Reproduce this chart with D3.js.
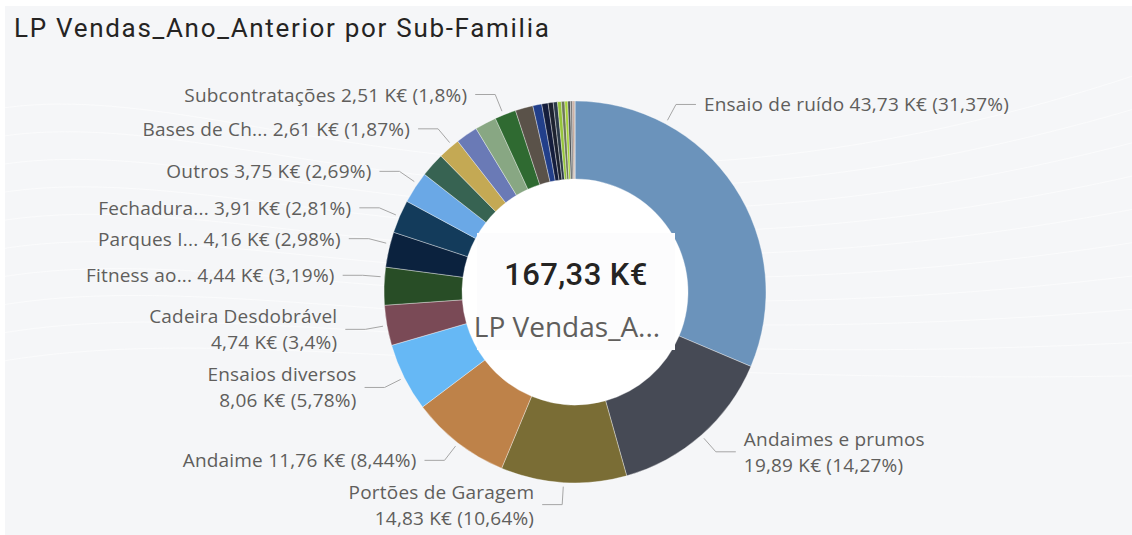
<!DOCTYPE html>
<html>
<head>
<meta charset="utf-8">
<script src="https://cdn.jsdelivr.net/npm/d3@7/dist/d3.min.js"></script>
<style>
  html, body { margin: 0; padding: 0; background: #ffffff; }
  svg { display: block; }
</style>
</head>
<body>
<svg id="chart" width="1132" height="535"></svg>
<script>
// ---------------- DATA ----------------
const title = "LP Vendas_Ano_Anterior por Sub-Familia";
const totalLabel = "167,33 K€";
const measureLabel = "LP Vendas_A...";

const categories = [
  "Ensaio de ruído", "Andaimes e prumos", "Portões de Garagem", "Andaime",
  "Ensaios diversos", "Cadeira Desdobrável", "Fitness ao...", "Parques I...",
  "Fechadura...", "Outros", "Sub-Familia 11", "Bases de Ch...", "Sub-Familia 13",
  "Sub-Familia 14", "Subcontratações", "Sub-Familia 16", "Sub-Familia 17",
  "Sub-Familia 18", "Sub-Familia 19", "Sub-Familia 20", "Sub-Familia 21",
  "Sub-Familia 22", "Sub-Familia 23", "Sub-Familia 24", "Sub-Familia 25",
  "Sub-Familia 26", "Sub-Familia 27", "Sub-Familia 28"
];
// K€
const values = [
  43.73, 19.89, 14.83, 11.76, 8.06, 4.74, 4.44, 4.16, 3.91, 3.75,
  2.86, 2.61, 2.58, 2.54, 2.51, 2.09, 1.05,
  0.75, 0.60, 0.50, 0.45, 0.40, 0.35, 0.30, 0.25, 0.15, 0.10, 0.04
];
const percentLabels = [
  "31,37%", "14,27%", "10,64%", "8,44%", "5,78%", "3,4%", "3,19%", "2,98%",
  "2,81%", "2,69%", "", "1,87%", "", "", "1,8%", "", "",
  "", "", "", "", "", "", "", "", "", "", ""
];
const colors = [
  "#6B93BB", "#464A55", "#7A6D35", "#BE8249", "#66B8F5", "#7A4A56", "#284D26",
  "#0B223E", "#133B5B", "#6AA8E6", "#376352", "#C4A954", "#6A7AB6", "#88A783",
  "#2F6A31", "#5A5249", "#223F8A", "#141D3C", "#1C2230", "#2C3A4A", "#96C43C",
  "#6E7858", "#A6D23A", "#4A4F52", "#7B7B7B", "#9C6E58", "#C07A6A", "#555A40"
];

// ---------------- LAYOUT ----------------
const W = 1132, H = 535;
const cx = 575, cy = 292, rOuter = 191, rInner = 113;
const labelled = [0, 1, 2, 3, 4, 5, 6, 7, 8, 9, 11, 14];
const twoLine = new Set([1, 2, 4, 5]);
const leaderAngleOverride = { 0: 28.3, 6: 274.5, 7: 284.5, 9: 304.5, 11: 320, 14: 338 };

const locale = d3.formatLocale({ decimal: ",", thousands: ".", grouping: [3], currency: ["", " €"] });
const fmt = locale.format(".2f");

const svg = d3.select("#chart");

svg.append("rect").attr("x", 0).attr("y", 0).attr("width", W).attr("height", H).attr("fill", "#ffffff");
svg.append("rect").attr("x", 5).attr("y", 6).attr("width", W - 5).attr("height", H - 6).attr("fill", "#F5F6F8");

const sw = svg.append("g").attr("fill", "none").attr("stroke", "#ffffff").attr("stroke-opacity", 0.55).attr("stroke-width", 1);
d3.range(10).forEach(i => {
  sw.append("path").attr("d", `M ${-50} ${120 + i * 28} C ${200} ${40 + i * 30}, ${500} ${300 + i * 10}, ${1180} ${60 + i * 35}`);
});

svg.append("text")
  .attr("x", 14).attr("y", 37)
  .attr("font-family", "Roboto, 'DejaVu Sans', sans-serif")
  .attr("font-size", 26)
  .attr("letter-spacing", 1.7)
  .attr("fill", "#252423")
  .text(title);

const pie = d3.pie().sort(null).value(d => d.value);
const data = categories.map((c, i) => ({ name: c, value: values[i], pct: percentLabels[i], color: colors[i], i }));
const arcs = pie(data);
const arc = d3.arc().innerRadius(rInner).outerRadius(rOuter);

const g = svg.append("g").attr("transform", `translate(${cx},${cy})`);
g.append("circle").attr("r", rInner).attr("fill", "#ffffff");

g.selectAll("path.slice")
  .data(arcs)
  .join("path")
  .attr("class", "slice")
  .attr("d", arc)
  .attr("fill", d => d.data.color)
  .attr("stroke", "#ffffff")
  .attr("stroke-opacity", 0.6)
  .attr("stroke-width", 0.6);

svg.append("rect")
  .attr("x", cx - 98).attr("y", cy - 59).attr("width", 198).attr("height", 117)
  .attr("fill", "#FCFCFD");
svg.append("text")
  .attr("x", cx + 1).attr("y", cy - 7)
  .attr("text-anchor", "middle")
  .attr("font-family", "Roboto, 'DejaVu Sans', sans-serif")
  .attr("font-weight", 500)
  .attr("font-size", 31)
  .attr("letter-spacing", 0.4)
  .attr("fill", "#252423")
  .text(totalLabel);
svg.append("text")
  .attr("x", cx - 8).attr("y", cy + 45)
  .attr("text-anchor", "middle")
  .attr("font-family", "'Open Sans', 'Noto Sans', sans-serif")
  .attr("font-size", 28)
  .attr("fill", "#605E5C")
  .text(measureLabel);

const labelFont = "'Open Sans', 'Noto Sans', sans-serif";
const labelSize = 19;
const lab = svg.append("g");
const rad = a => a * Math.PI / 180;
const polar = (r, deg) => [cx + r * Math.sin(rad(deg)), cy - r * Math.cos(rad(deg))];

labelled.forEach(i => {
  const a = arcs[i];
  const mid = (a.startAngle + a.endAngle) / 2 * 180 / Math.PI;
  const ang = leaderAngleOverride[i] !== undefined ? leaderAngleOverride[i] : mid;
  const p0 = polar(rOuter + 4, ang);
  const p1 = polar(rOuter + 22, ang);
  const right = Math.sin(rad(ang)) > 0;
  const dir = right ? 1 : -1;
  const p2 = [p1[0] + dir * 20, p1[1]];
  lab.append("polyline")
    .attr("points", [p0, p1, p2].map(p => p.join(",")).join(" "))
    .attr("fill", "none")
    .attr("stroke", "#A6A6A6")
    .attr("stroke-width", 1);
  const tx = p2[0] + dir * 8;
  const anchor = right ? "start" : "end";
  const valText = `${fmt(values[i])} K€ (${percentLabels[i]})`;
  const t = lab.append("text")
    .attr("x", tx)
    .attr("text-anchor", anchor)
    .attr("font-family", labelFont)
    .attr("font-size", labelSize)
    .attr("letter-spacing", 0.2)
    .attr("fill", "#605E5C");
  if (twoLine.has(i)) {
    t.append("tspan").attr("x", tx).attr("y", p2[1] - 6).text(categories[i]);
    t.append("tspan").attr("x", tx).attr("y", p2[1] + 20).text(valText);
  } else {
    t.attr("y", p2[1] + 7).text(`${categories[i]} ${valText}`);
  }
});
</script>
</body>
</html>
